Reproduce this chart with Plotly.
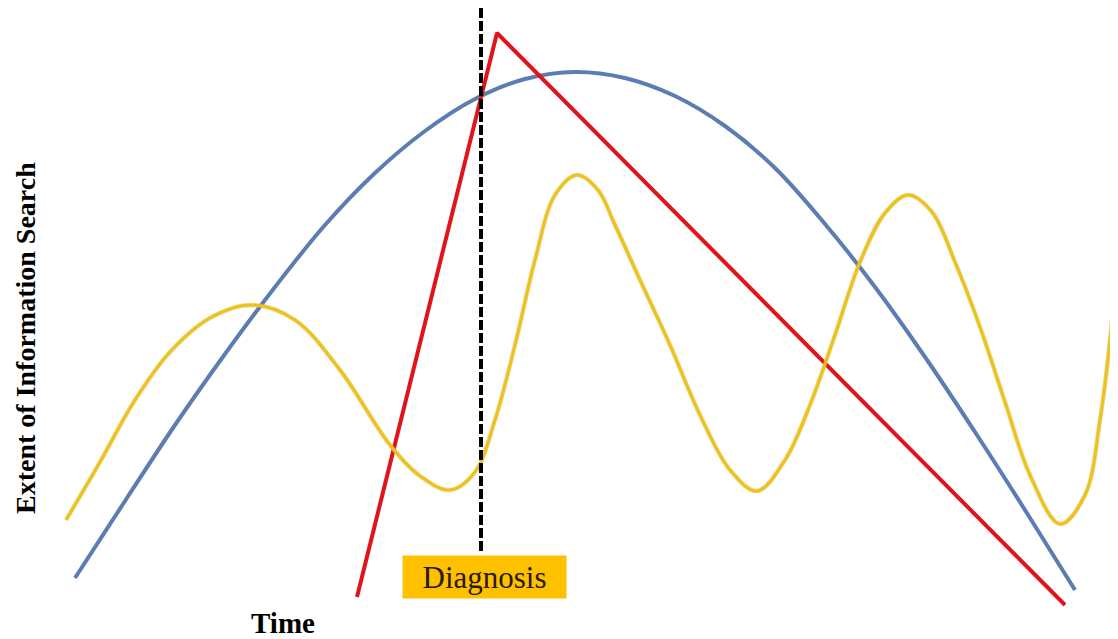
import plotly.graph_objects as go

# Data in the chart's own coordinate system (x: time units, y: search extent, inverted axis)
yellow_x = [66, 100, 135, 170, 210, 252, 295, 340, 390, 420, 450, 475, 495, 515, 535, 555, 577,
            598, 615, 640, 670, 700, 730, 757, 785, 810, 835, 860, 885, 908, 932, 955, 980,
            1005, 1030, 1060, 1085, 1100, 1112, 1122]
yellow_y = [520, 462, 400, 352, 318, 305, 320, 370, 445, 476, 490, 472, 420, 345, 260, 195, 175,
            190, 225, 280, 345, 415, 470, 491, 460, 405, 335, 262, 213, 195, 212, 262, 327,
            402, 475, 524, 495, 420, 320, 190]

blue_x = [75, 125, 175, 225, 275, 325, 375, 425, 475, 525, 575, 625, 675, 725, 775, 825, 875,
          925, 975, 1025, 1075]
blue_y = [578, 501, 425, 354, 287, 225, 173, 131, 99, 79, 72, 78, 96, 126, 168, 224, 287,
          357, 432, 510, 590]

red_x = [357, 497, 1065]
red_y = [597, 33, 605]

diag_x = [481, 481]
diag_y = [8, 552]

fig = go.Figure()
fig.add_trace(go.Scatter(x=blue_x, y=blue_y, mode="lines",
                         line=dict(color="#5B7DB1", width=4, shape="spline", smoothing=1.0),
                         hoverinfo="skip"))
fig.add_trace(go.Scatter(x=red_x, y=red_y, mode="lines",
                         line=dict(color="#E0141C", width=4),
                         hoverinfo="skip"))
fig.add_trace(go.Scatter(x=yellow_x, y=yellow_y, mode="lines",
                         line=dict(color="#F0B030", width=4.5, shape="spline", smoothing=1.0),
                         opacity=0.5, hoverinfo="skip"))
fig.add_trace(go.Scatter(x=yellow_x, y=yellow_y, mode="lines",
                         line=dict(color="#E8C41E", width=3, shape="spline", smoothing=1.0),
                         hoverinfo="skip"))
fig.add_trace(go.Scatter(x=diag_x, y=diag_y, mode="lines",
                         line=dict(color="black", width=4, dash="10px,3px"),
                         hoverinfo="skip"))

fig.add_annotation(x=484.5, y=577, xref="x", yref="y", text="Diagnosis", showarrow=False,
                   font=dict(family="Liberation Serif", size=31, color="#2a1a00"),
                   bgcolor="#FFC000", width=157, height=36, borderpad=3)
fig.add_annotation(x=283, y=623, xref="x", yref="y", text="<b>Time</b>", showarrow=False,
                   font=dict(family="Liberation Serif", size=29, color="black"))
fig.add_annotation(x=25, y=338, xref="x", yref="y", text="<b>Extent of Information Search</b>",
                   showarrow=False, textangle=-90,
                   font=dict(family="Liberation Serif", size=28, color="black"))

# The page body has an 8px margin, so the figure is sized to the remaining window area
fig.update_layout(
    width=1110, height=631,
    margin=dict(l=0, r=0, t=0, b=0),
    paper_bgcolor="white", plot_bgcolor="white",
    showlegend=False,
    xaxis=dict(range=[8, 1118], visible=False, fixedrange=True),
    yaxis=dict(range=[639, 8], visible=False, fixedrange=True),
)

fig.write_html("out.html")
